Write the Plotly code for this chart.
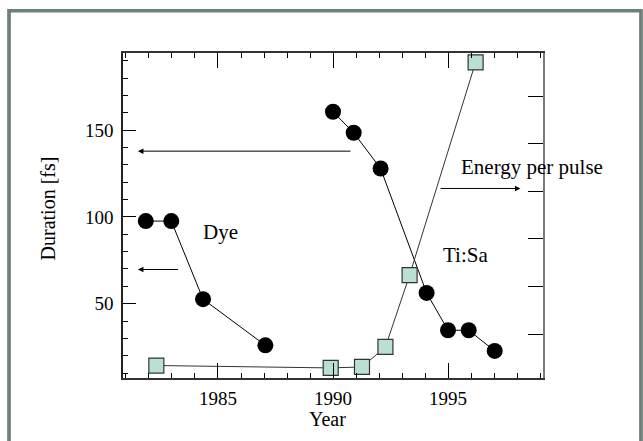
import plotly.graph_objects as go

# Pulse duration of dye lasers (fs)
dye_years = [1981.86, 1982.97, 1984.35, 1987.06]
dye_duration = [97.6, 97.6, 52.6, 26.0]

# Pulse duration of Ti:Sapphire lasers (fs)
tisa_years = [1990.0, 1990.9, 1992.07, 1994.07, 1995.0, 1995.9, 1997.03]
tisa_duration = [160.6, 148.5, 127.9, 56.2, 34.7, 34.7, 22.8]

# Energy per pulse (arbitrary units, right axis)
energy_years = [1982.32, 1989.9, 1991.26, 1992.28, 1993.33, 1996.2]
energy = [0.34, 0.29, 0.31, 0.73, 2.24, 6.71]

x_major_ticks = [1985, 1990, 1995]
y_major_ticks = [50, 100, 150]

SERIF = "Liberation Serif, Times New Roman, serif"

fig = go.Figure()

circle_marker = dict(symbol="circle", size=16, color="black", line=dict(width=0))
fig.add_trace(go.Scatter(x=dye_years, y=dye_duration, mode="lines+markers",
                         line=dict(color="black", width=1), marker=circle_marker,
                         name="Dye", showlegend=False))
fig.add_trace(go.Scatter(x=tisa_years, y=tisa_duration, mode="lines+markers",
                         line=dict(color="black", width=1), marker=circle_marker,
                         name="Ti:Sa", showlegend=False))
fig.add_trace(go.Scatter(x=energy_years, y=energy, mode="lines+markers", yaxis="y2",
                         line=dict(color="#333333", width=1),
                         marker=dict(symbol="square", size=15, color="#b9e0d3",
                                     line=dict(color="#333333", width=1.2)),
                         name="Energy per pulse", showlegend=False))

tick_font = dict(family=SERIF, size=19, color="black")

fig.update_layout(
    width=643, height=441,
    margin=dict(l=123, r=100, t=53, b=63),
    paper_bgcolor="white", plot_bgcolor="white",
    showlegend=False,
    xaxis=dict(range=[1980.87, 1999.13], tickvals=x_major_ticks, ticks="inside",
               ticklen=15, tickwidth=1.2, tickcolor="black",
               minor=dict(dtick=1, tick0=1980, ticks="inside", ticklen=5,
                          tickwidth=1.2, tickcolor="black"),
               showline=True, linecolor="#333333", linewidth=1.6, mirror="ticks",
               showgrid=False, zeroline=False, tickfont=tick_font,
               ticklabelstandoff=2),
    yaxis=dict(range=[7.19, 194.45], tickvals=y_major_ticks, ticks="inside",
               ticklen=13, tickwidth=1.2, tickcolor="black",
               minor=dict(dtick=10, tick0=0, ticks="inside", ticklen=5,
                          tickwidth=1.2, tickcolor="black"),
               showline=True, linecolor="#222222", linewidth=1.6,
               showgrid=False, zeroline=False, tickfont=tick_font,
               ticklabelstandoff=4),
    yaxis2=dict(range=[0.078, 6.905], overlaying="y", side="right", anchor="x",
                dtick=1, tick0=0, ticks="inside", ticklen=15, tickwidth=1.2,
                tickcolor="black", showticklabels=False, showline=True,
                linecolor="#7a7a7a", linewidth=1.6, showgrid=False, zeroline=False),
)

# Axis titles
title_font = dict(family=SERIF, size=20, color="black")
fig.add_annotation(text="Year", xref="paper", yref="paper", x=0.488, y=-0.125,
                   xanchor="center", yanchor="middle", showarrow=False, borderpad=0,
                   font=title_font)
fig.add_annotation(text="Duration [fs]", xref="paper", yref="paper", x=-0.1786, y=0.5217,
                   xanchor="center", yanchor="middle", textangle=-90, showarrow=False,
                   font=title_font)

# Grey frame around the whole figure
fig.add_shape(type="rect", xref="paper", yref="paper",
              x0=-0.2714, x1=1.2333, y0=-0.35, y1=1.13,
              line=dict(color="#6e807a", width=3.7), fillcolor="rgba(0,0,0,0)",
              layer="below")

label_font = dict(family=SERIF, size=21, color="black")

# Arrows pointing to the axis each series belongs to
arrows = [
    dict(x=1981.52, y=137.9, ax=1990.83, ay=137.9),
    dict(x=1981.52, y=69.7, ax=1983.33, ay=69.7),
    dict(x=1998.15, y=116.4, ax=1994.61, ay=116.4),
]
for a in arrows:
    fig.add_annotation(x=a["x"], y=a["y"], ax=a["ax"], ay=a["ay"],
                       xref="x", yref="y", axref="x", ayref="y", text="",
                       showarrow=True, arrowhead=2, arrowsize=1.1, arrowwidth=1,
                       arrowcolor="black")

texts = [
    ("Dye", 1984.28, 91.4),
    ("Ti:Sa", 1994.68, 77.95),
    ("Energy per pulse", 1995.48, 128.9),
]
for t, x, y in texts:
    fig.add_annotation(x=x, y=y, xref="x", yref="y", text=t, showarrow=False,
                       xanchor="left", yanchor="middle", font=label_font)

fig.write_html("out.html")
